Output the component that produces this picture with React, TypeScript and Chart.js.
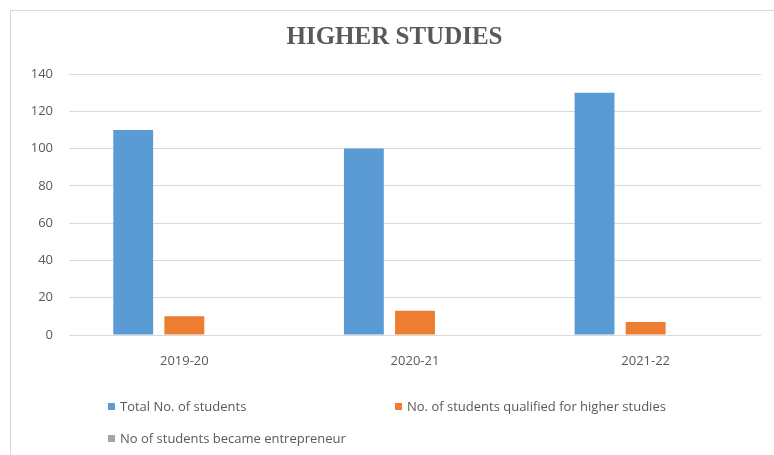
import React, { useEffect, useRef } from "react";
import { Chart, registerables } from "chart.js";

Chart.register(...registerables);

const categories = ["2019-20", "2020-21", "2021-22"];
const seriesNames = [
  "Total No. of students",
  "No. of students qualified for higher studies",
  "No of students became entrepreneur",
];
const totalStudents = [110, 100, 130];
const qualifiedHigher = [10, 13, 7];
const entrepreneurs = [0, 0, 0];
const seriesColors = ["#5b9bd5", "#ed7d31", "#a5a5a5"];
const yTicks = { min: 0, max: 140, step: 20 };
const titleText = "HIGHER STUDIES";

export default function App() {
  const canvasRef = useRef<HTMLCanvasElement | null>(null);
  const legendRef = useRef<HTMLDivElement | null>(null);

  useEffect(() => {
    document.body.style.margin = "0";
    const canvas = canvasRef.current;
    if (!canvas) return;
    const values = [totalStudents, qualifiedHigher, entrepreneurs];
    const chart = new Chart(canvas, {
      type: "bar",
      data: {
        labels: categories,
        datasets: seriesNames.map((name, i) => ({
          label: name,
          data: values[i],
          backgroundColor: seriesColors[i],
          borderWidth: 0,
          barPercentage: 0.78,
          categoryPercentage: 0.665,
        })),
      },
      options: {
        animation: false,
        responsive: false,
        maintainAspectRatio: false,
        devicePixelRatio: 1,
        layout: { padding: { left: 28, right: 13, top: 0, bottom: 80 } },
        plugins: {
          legend: { display: false },
          tooltip: { enabled: false },
          title: {
            display: true,
            text: titleText,
            color: "#595959",
            font: { family: "'Liberation Serif', 'DejaVu Serif', serif", size: 25, weight: "bold", lineHeight: 1.2 },
            padding: { top: 23, bottom: 21 },
          },
        },
        scales: {
          x: {
            grid: { display: false, drawTicks: false },
            border: { display: false },
            ticks: {
              color: "#595959",
              font: { family: "'Open Sans', sans-serif", size: 13 },
              padding: 18,
            },
            afterFit: (s: any) => {
              s.height = 40;
            },
          },
          y: {
            min: yTicks.min,
            max: yTicks.max,
            grid: { color: "#d9d9d9", lineWidth: 1, drawTicks: false },
            border: { display: false },
            ticks: {
              stepSize: yTicks.step,
              color: "#595959",
              font: { family: "'Open Sans', sans-serif", size: 13 },
              padding: 16,
            },
            afterFit: (s: any) => {
              s.width = 41;
            },
          },
        },
      },
    });

    const legend = legendRef.current;
    if (legend) {
      legend.innerHTML = "";
      chart.data.datasets.forEach((ds: any) => {
        const item = document.createElement("div");
        item.style.display = "flex";
        item.style.alignItems = "center";
        item.style.height = "16px";
        const box = document.createElement("span");
        box.style.display = "inline-block";
        box.style.width = "7px";
        box.style.height = "7px";
        box.style.marginRight = "5px";
        box.style.background = ds.backgroundColor;
        const txt = document.createElement("span");
        txt.textContent = ds.label;
        item.appendChild(box);
        item.appendChild(txt);
        legend.appendChild(item);
      });
    }
    return () => {
      chart.destroy();
    };
  }, []);

  return (
    <div style={{ position: "fixed", left: 0, top: 0, width: 774, height: 455, background: "#fff", overflow: "hidden" }}>
      <div
        style={{
          position: "absolute",
          left: 10,
          top: 10,
          right: -2,
          bottom: -2,
          borderLeft: "1px solid #d9d9d9",
          borderTop: "1px solid #d9d9d9",
        }}
      />
      <canvas ref={canvasRef} width={774} height={455} style={{ position: "absolute", left: 0, top: 0, width: 774, height: 455 }} />
      <div
        ref={legendRef}
        style={{
          position: "absolute",
          left: 108,
          top: 398,
          display: "grid",
          gridTemplateColumns: "287px auto",
          rowGap: 16,
          fontFamily: "'Open Sans', sans-serif",
          fontSize: 13,
          color: "#595959",
          whiteSpace: "nowrap",
        }}
      />
    </div>
  );
}
